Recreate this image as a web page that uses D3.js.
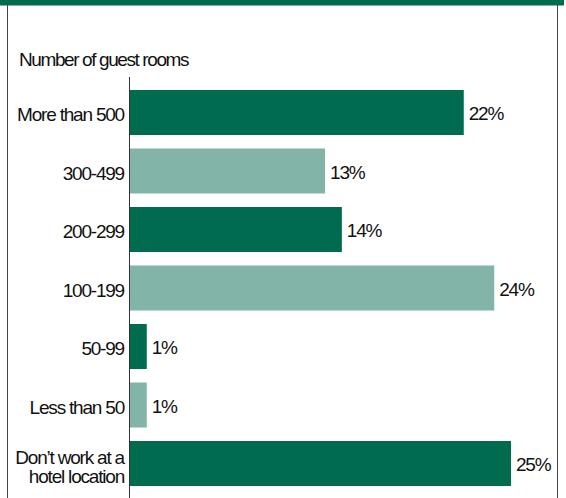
<!DOCTYPE html>
<html>
<head>
<meta charset="utf-8">
<script src="https://cdn.jsdelivr.net/npm/d3@7"></script>
<style>
  body { margin: 0; background: #fff; }
  text { font-family: "Liberation Sans", Arial, sans-serif; fill: #111; }
</style>
</head>
<body>
<div id="chart"></div>
<script>
// chart data
let categories = ["More than 500", "300-499", "200-299", "100-199", "50-99", "Less than 50", "Don\u2019t work at a\nhotel location"];
let values = [21.9, 12.8, 13.9, 23.9, 1.1, 1.1, 25.0];
let shades = ["dark", "light", "dark", "light", "dark", "light", "dark"];
let title = "Number of guest rooms";

let W = 566, H = 498;
let margin = {top: 90, left: 130};
let step = 58.5, barH = 45;

let svg = d3.select("#chart")
            .append("svg")
            .attr("width", W)
            .attr("height", H);

// frame + top band
svg.append("rect").attr("x", 0).attr("y", 0).attr("width", 564).attr("height", 5).attr("fill", "#006b4f");
svg.append("line").attr("x1", 0).attr("x2", 564).attr("y1", 5.5).attr("y2", 5.5).attr("stroke", "#7fb3a5");
svg.append("line").attr("x1", 7.5).attr("x2", 7.5).attr("y1", 5).attr("y2", H).attr("stroke", "#444");
svg.append("line").attr("x1", 557.5).attr("x2", 557.5).attr("y1", 5).attr("y2", H).attr("stroke", "#444");

svg.append("text")
   .attr("x", 19)
   .attr("y", 66)
   .style("font-size", "19px")
   .style("letter-spacing", "-1.4px")
   .text(title);

let x = d3.scaleLinear()
          .domain([0, 25])
          .range([margin.left, margin.left + 381]);

let n = categories.length;
let y = d3.scaleBand()
          .domain(categories)
          .range([margin.top, margin.top + step * (n - 1) + barH])
          .paddingInner((step - barH) / step)
          .paddingOuter(0);

let color = d3.scaleOrdinal()
              .domain(["dark", "light"])
              .range(["#006b4f", "#82b5a8"]);

// bars
svg.append("g")
   .selectAll("rect")
   .data(values)
   .enter().append("rect")
     .attr("x", x(0))
     .attr("y", (d, i) => y(categories[i]))
     .attr("width", d => x(d) - x(0))
     .attr("height", y.bandwidth())
     .attr("fill", (d, i) => color(shades[i]));

// value labels
svg.append("g")
   .selectAll("text")
   .data(values)
   .enter().append("text")
     .attr("x", d => x(d) + 5)
     .attr("y", (d, i) => y(categories[i]) + y.bandwidth() / 2)
     .attr("dy", "0.42em")
     .style("font-size", "19px")
     .style("letter-spacing", "-1.2px")
     .text(d => Math.round(d) + "%");

// category labels (can be two lines)
let cat = svg.append("g")
   .selectAll("text")
   .data(categories)
   .enter().append("text")
     .attr("x", 124)
     .attr("y", d => y(d) + y.bandwidth() / 2)
     .attr("text-anchor", "end")
     .style("font-size", "19px")
     .style("letter-spacing", "-1.2px");
cat.each(function(d) {
  let lines = d.split("\n");
  let t = d3.select(this);
  lines.forEach((l, j) => {
    t.append("tspan")
     .attr("x", 124)
     .attr("dy", j == 0 ? (lines.length > 1 ? "0em" : "0.45em") : "1.05em")
     .text(l);
  });
});

// axis line
svg.append("line")
   .attr("x1", x(0) - 0.5).attr("x2", x(0) - 0.5)
   .attr("y1", 77).attr("y2", H)
   .attr("stroke", "#333");
</script>
</body>
</html>
